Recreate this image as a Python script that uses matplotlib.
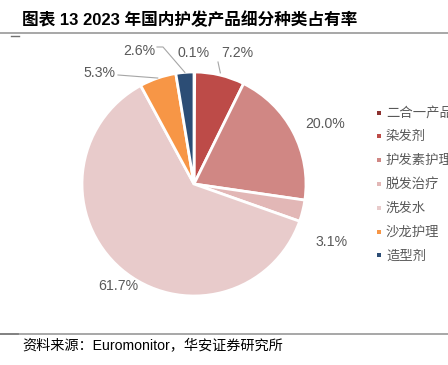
import matplotlib.pyplot as plt
import numpy as np

# 数据
categories = ["二合一产品", "染发剂", "护发素护理", "脱发治疗", "洗发水", "沙龙护理", "造型剂"]
shares = [0.1, 7.2, 20.0, 3.1, 61.7, 5.3, 2.6]
colors = ["#8C3230", "#BD4B48", "#D08784", "#E2B7B6", "#E8CBCB", "#F79646", "#2C4D75"]
# label positions in pixels (x, y from top)
label_pos = [(194, 53), (237, 53), (325, 124), (332, 242), (118, 286), (99, 73), (139, 51)]

W, H = 448, 365
fig = plt.figure(figsize=(W / 100, H / 100), dpi=100)
ax = fig.add_axes([0, 0, 1, 1])

cx, cy, r = 194, H - 184, 112
wedges, _ = ax.pie(shares, colors=colors, startangle=90, counterclock=False,
                   center=(cx, cy), radius=r, frame=True,
                   wedgeprops=dict(edgecolor="white", linewidth=2))
ax.set_xlim(0, W)
ax.set_ylim(0, H)
ax.set_aspect("equal")
ax.axis("off")

txt_font = ["Liberation Sans", "DejaVu Sans"]
cum = np.cumsum([0] + shares)
for i, v in enumerate(shares):
    lx, ly = label_pos[i]
    ax.text(lx, H - ly, f"{v:.1f}%", ha="center", va="center", fontsize=10.2,
            color="#595959", family=txt_font)

# leader lines
gray = "#A6A6A6"
def edge_point(i, k=1.0):
    mid = (cum[i] + cum[i + 1]) / 2 / 100 * 2 * np.pi
    return cx + k * r * np.sin(mid), cy + k * r * np.cos(mid)

x0, y0 = edge_point(1, 1.02)
ax.plot([x0, 218], [y0, H - 62], color=gray, lw=0.8)
x0, y0 = edge_point(5, 1.0)
ax.plot([118, x0], [H - 75, y0], color=gray, lw=0.8)
x0, y0 = edge_point(6, 1.0)
ax.plot([157, 163, x0], [H - 47, H - 47, y0], color=gray, lw=0.8)

# legend
cjk = ["Noto Sans CJK SC", "DejaVu Sans"]
for i, (name, c) in enumerate(zip(categories, colors)):
    y = H - (112.5 + i * 23.8)
    ax.scatter([379], [y], marker="s", s=9, color=c, linewidths=0)
    ax.text(386, y, name, ha="left", va="center", fontsize=9.6, color="#595959",
            family=cjk, clip_on=False)

# title and lines
ax.text(22, H - 20, "图表 13 2023 年国内护发产品细分种类占有率", ha="left", va="center",
        fontsize=12, fontweight="bold", color="#000000",
        family=["Liberation Sans", "Noto Sans CJK SC"])
ax.plot([0, W], [H - 32.5, H - 32.5], color="#A0A0A0", lw=1.3)
ax.plot([11, 19], [H - 35.5, H - 35.5], color="#707070", lw=1.0)
ax.plot([0, W], [H - 334, H - 334], color="#A0A0A0", lw=1.3)
ax.plot([0, 18], [H - 334, H - 334], color="#808080", lw=1.3)

ax.text(22, H - 346, "资料来源：Euromonitor，华安证券研究所", ha="left", va="center",
        fontsize=10.2, color="#000000", family=["Liberation Sans", "Noto Sans CJK SC"])

fig.savefig("out.png", dpi=100)
